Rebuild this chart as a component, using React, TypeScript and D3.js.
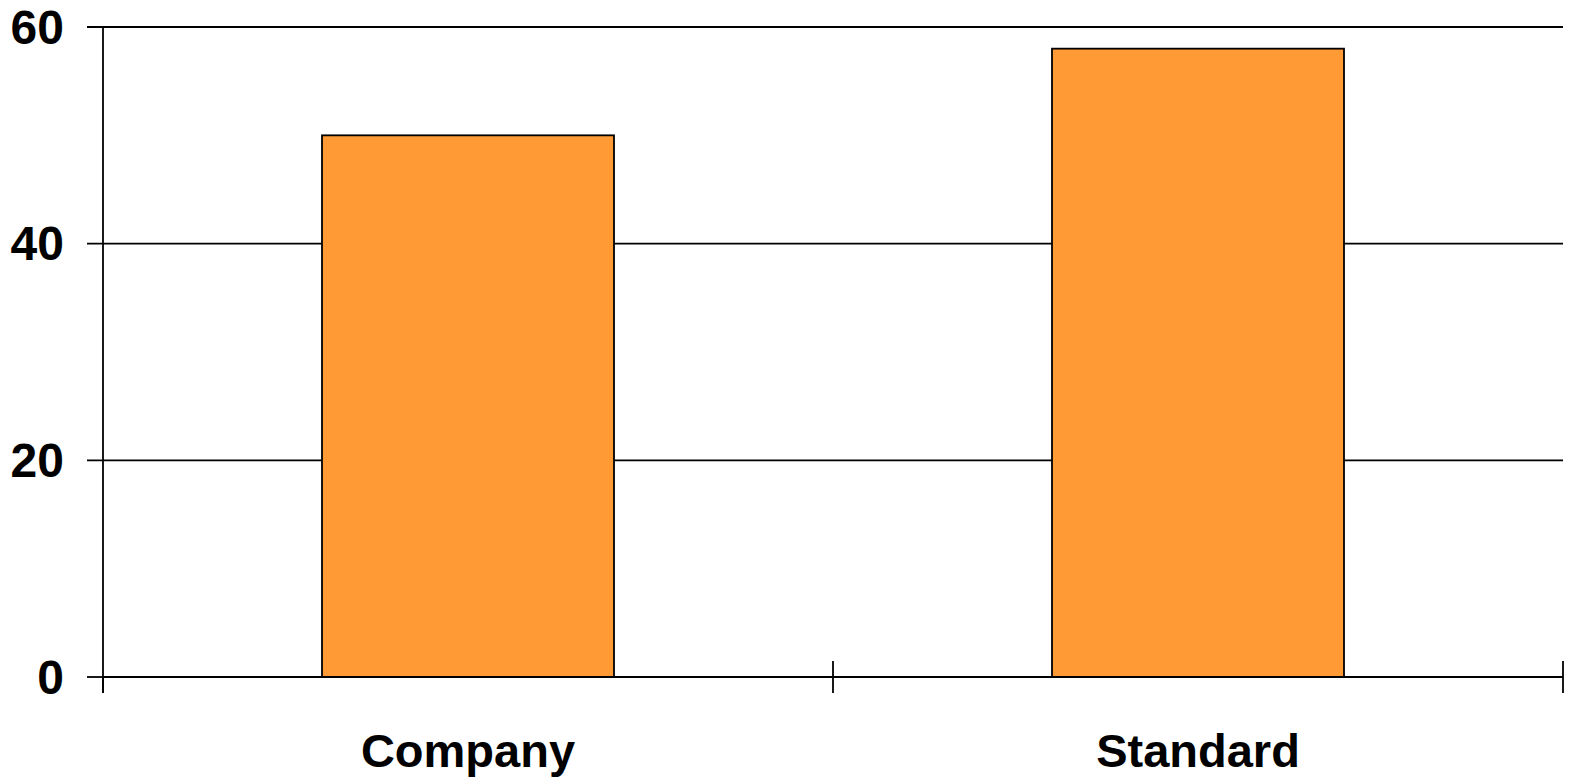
import React from "react";
import * as d3 from "d3";

const categories = ["Company", "Standard"];
const values = [50, 58];
const yTicks = [0, 20, 40, 60];

const W = 1569;
const H = 778;
const M = { left: 103, right: 6, top: 27, bottom: 101 };

export default function App() {
  const x = d3
    .scaleBand<string>()
    .domain(categories)
    .range([M.left, W - M.right])
    .paddingInner(0)
    .paddingOuter(0);
  const y = d3.scaleLinear().domain([0, 60]).range([H - M.bottom, M.top]);
  const bw = x.bandwidth() * 0.4;
  const y0 = y(0);
  const edges = [M.left, ...categories.map((c) => (x(c) as number) + x.bandwidth())];
  const font = "'Liberation Sans', Arial, sans-serif";
  const sw = 1.8;

  return (
    <svg
      width={W}
      height={H}
      style={{ position: "fixed", left: 0, top: 0, background: "#fff" }}
    >
      {yTicks.map((t) => (
        <g key={t}>
          <line
            x1={87}
            x2={t === 0 ? M.left : W - M.right}
            y1={y(t)}
            y2={y(t)}
            stroke="#000"
            strokeWidth={sw}
          />
          <text
            x={64}
            y={y(t)}
            textAnchor="end"
            dominantBaseline="central"
            fontFamily={font}
            fontWeight="bold"
            fontSize={48}
            fill="#000"
          >
            {t}
          </text>
        </g>
      ))}
      {categories.map((c, i) => {
        const cx = (x(c) as number) + x.bandwidth() / 2;
        return (
          <rect
            key={c}
            x={cx - bw / 2}
            y={y(values[i])}
            width={bw}
            height={y0 - y(values[i])}
            fill="#FF9A35"
            stroke="#000"
            strokeWidth={sw}
          />
        );
      })}
      <line x1={M.left} x2={W - M.right} y1={y0} y2={y0} stroke="#000" strokeWidth={sw} />
      <line x1={M.left} x2={M.left} y1={M.top} y2={y0 + 16} stroke="#000" strokeWidth={sw} />
      {edges.map((e, i) => (
        <line
          key={i}
          x1={e}
          x2={e}
          y1={i === 0 ? y0 : y0 - 16}
          y2={y0 + 16}
          stroke="#000"
          strokeWidth={sw}
        />
      ))}
      {categories.map((c) => (
        <text
          key={c}
          x={(x(c) as number) + x.bandwidth() / 2}
          y={767}
          textAnchor="middle"
          fontFamily={font}
          fontWeight="bold"
          fontSize={47}
          fill="#000"
        >
          {c}
        </text>
      ))}
    </svg>
  );
}
